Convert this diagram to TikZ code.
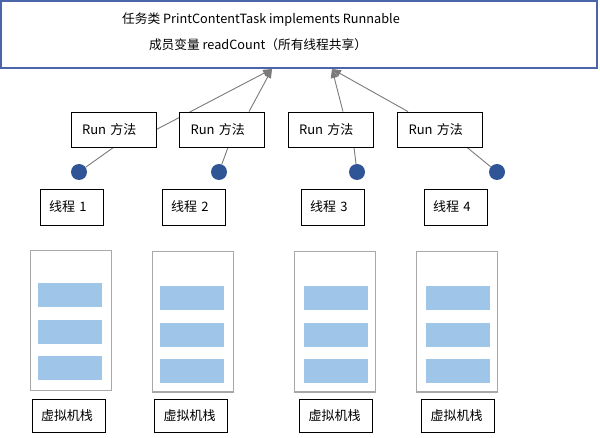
\documentclass[tikz,border=0pt]{standalone}
\usepackage{fontspec}
\setmainfont{Noto Sans CJK SC}
\usetikzlibrary{arrows.meta,backgrounds}
\definecolor{topblue}{HTML}{4A66A8}
\definecolor{dotblue}{HTML}{2F5597}
\definecolor{frame}{HTML}{A8A8A8}
\definecolor{cell}{HTML}{9FC5E8}
\definecolor{conn}{HTML}{7A7A7A}
\tikzset{
  box/.style={draw=black, fill=white, line width=0.8pt, inner sep=0pt, font=\fontsize{13}{15}\selectfont},
  runbox/.style={box, minimum width=85pt, minimum height=35pt, text width=63pt, align=left},
  thbox/.style={box, minimum width=63pt, minimum height=36pt, text width=45pt, align=left},
  vmbox/.style={box, minimum width=73pt, minimum height=33pt, text width=55pt, align=left},
  stackbox/.style={draw=frame, fill=white, line width=1pt, minimum width=81pt, minimum height=140pt, inner sep=0pt},
  cellbox/.style={fill=cell, draw=none, minimum width=64pt, minimum height=24pt, inner sep=0pt},
  dot/.style={circle, fill=dotblue, minimum size=16pt, inner sep=0pt},
  conn/.style={draw=conn, line width=0.9pt},
  arr/.style={conn, -{Triangle[length=9pt,width=7pt]}}
}
\begin{document}
\begin{tikzpicture}[x=1pt,y=-1pt]
\useasboundingbox (0,0) rectangle (600,438);
% top box
\node[draw=topblue, line width=1.6pt, fill=white, minimum width=596pt, minimum height=67pt, inner sep=0pt] (top) at (299,34.5) {};
\node[font=\fontsize{12.7}{14}\selectfont] (t1) at (261,20) {任务类 PrintContentTask implements Runnable};
\node[font=\fontsize{12.7}{14}\selectfont] (t2) at (258,45) {成员变量 readCount（所有线程共享）};
\coordinate (a1) at (272,69);
\coordinate (a2) at (332,69);
% run boxes
\node[runbox] (r1) at (113.5,129.5) {Run 方法};
\node[runbox] (r2) at (222,129.5) {Run 方法};
\node[runbox] (r3) at (330.5,129.5) {Run 方法};
\node[runbox] (r4) at (440,129.5) {Run 方法};
% dots
\node[dot] (d1) at (79,172) {};
\node[dot] (d2) at (219,172) {};
\node[dot] (d3) at (357,172) {};
\node[dot] (d4) at (497,172) {};
% threads
\node[thbox] (th1) at (71.5,207) {线程 1};
\node[thbox] (th2) at (193.5,207) {线程 2};
\node[thbox] (th3) at (332.5,207) {线程 3};
\node[thbox] (th4) at (455.5,207) {线程 4};
% stacks
\node[stackbox] (s1) at (70.5,321) {};
\node[stackbox] (s2) at (192.5,322) {};
\node[stackbox] (s3) at (334.5,322) {};
\node[stackbox] (s4) at (456.5,322) {};
\node[cellbox] (c11) at (70,295) {};
\node[cellbox] (c12) at (70,332) {};
\node[cellbox] (c13) at (70,368) {};
\node[cellbox] (c21) at (192,298.5) {};
\node[cellbox] (c22) at (192,335.5) {};
\node[cellbox] (c23) at (192,371.5) {};
\node[cellbox] (c31) at (336,298.5) {};
\node[cellbox] (c32) at (336,335.5) {};
\node[cellbox] (c33) at (336,371.5) {};
\node[cellbox] (c41) at (458,298.5) {};
\node[cellbox] (c42) at (458,335.5) {};
\node[cellbox] (c43) at (458,371.5) {};
% vm boxes
\node[vmbox] (v1) at (68.5,415.5) {虚拟机栈};
\node[vmbox] (v2) at (191,415.5) {虚拟机栈};
\node[vmbox] (v3) at (336,415.5) {虚拟机栈};
\node[vmbox] (v4) at (458,415.5) {虚拟机栈};
% connectors
\begin{scope}[on background layer]
\draw[arr] (r1.east) -- (a1);
\draw[arr] ([xshift=27pt]r2.north) -- (a1);
\draw[arr] ([xshift=12.5pt]r3.north) -- (a2);
\draw[arr] ([xshift=-32pt]r4.north) -- (a2);
\draw[conn] (d1) -- (r1.south);
\draw[conn] (d2) -- ([xshift=6pt]r2.south);
\draw[conn] (d3) -- ([xshift=23.5pt]r3.south);
\draw[conn] (d4) -- ([xshift=27pt]r4.south);
\end{scope}
\end{tikzpicture}
\end{document}
